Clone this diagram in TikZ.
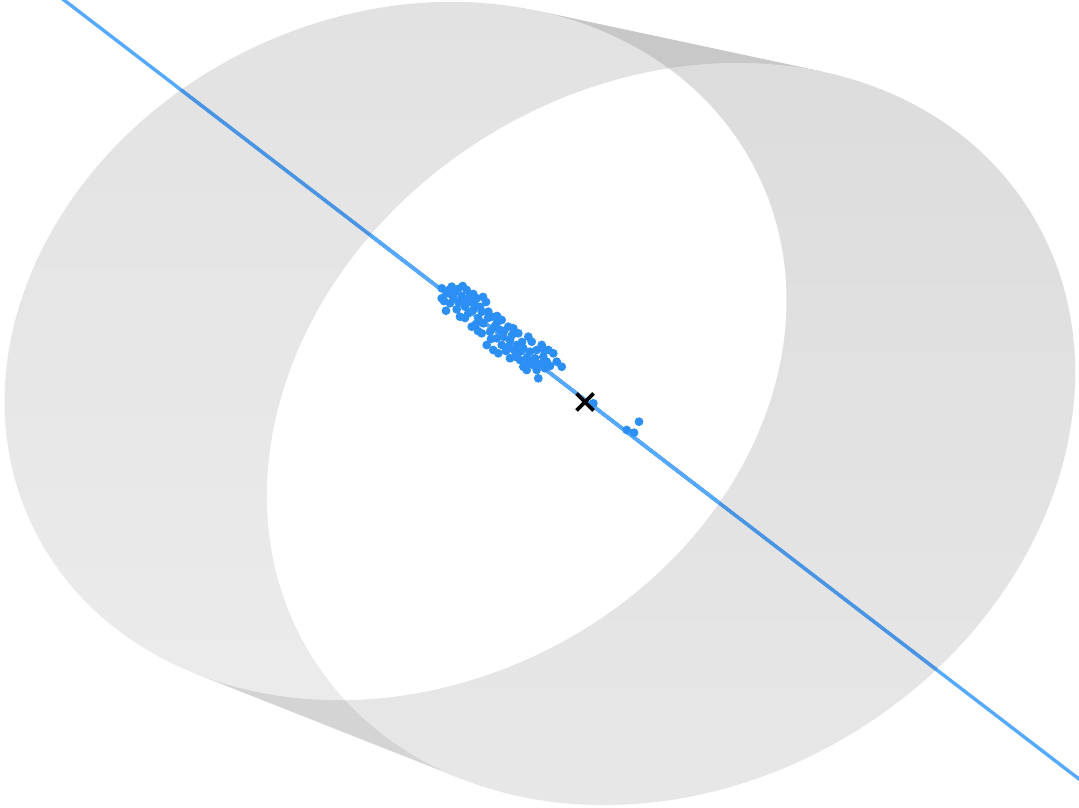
\documentclass[tikz,border=0pt]{standalone}
\definecolor{bandtop}{HTML}{C7C7C7}
\definecolor{bandbot}{HTML}{D5D5D5}
\definecolor{backtop}{HTML}{E2E2E2}
\definecolor{backbot}{HTML}{ECECEC}
\definecolor{fronttop}{HTML}{DCDCDC}
\definecolor{frontbot}{HTML}{E8E8E8}
\definecolor{linelight}{HTML}{55AAFF}
\definecolor{linedark}{HTML}{4A94E2}
\definecolor{dotblue}{HTML}{2B8FF5}
\begin{document}
\begin{tikzpicture}[x=1pt,y=-1pt,
  backcap/.style={shift={(395.5,351)},rotate=26},
  frontcap/.style={shift={(671,434)},rotate=31.4},
  fitline/.style={line width=3.4pt},
  sample/.style={fill=dotblue},
  crossmark/.style={line width=3.8pt,draw=black}]
\useasboundingbox (0,0) rectangle (1079,808);
\clip (0,0) rectangle (1079,808);
% tangent points of the side surface
\coordinate (T1) at (536.6,10.6);
\coordinate (T2) at (822,71.5);
\coordinate (B2) at (461.6,778.9);
\coordinate (B1) at (195.8,673.8);
% side surface bands
\shade[top color=bandtop,bottom color=bandbot] (T1) -- (T2) -- (B2) -- (B1) -- cycle;
% caps
\shade[backcap,top color=backtop,bottom color=backbot] (0,0) ellipse [x radius=403,y radius=335];
\shade[frontcap,top color=fronttop,bottom color=frontbot] (0,0) ellipse [x radius=422.5,y radius=350];
\begin{scope}
  \clip[backcap] (0,0) ellipse [x radius=403,y radius=335];
  \fill[white,frontcap] (0,0) ellipse [x radius=422.5,y radius=350];
\end{scope}
% fitted line
\coordinate (LA) at (50,-10.7);
\coordinate (LB) at (1095,791.3);
\draw[fitline,linelight] (LA) -- (LB);
\begin{scope}
  \clip[backcap] (0,0) ellipse [x radius=403,y radius=335];
  \draw[fitline,linedark] (LA) -- (LB);
\end{scope}
\begin{scope}
  \clip[frontcap] (0,0) ellipse [x radius=422.5,y radius=350];
  \draw[fitline,linedark] (LA) -- (LB);
\end{scope}
\begin{scope}
  \clip[backcap] (0,0) ellipse [x radius=403,y radius=335];
  \clip[frontcap] (0,0) ellipse [x radius=422.5,y radius=350];
  \draw[fitline,linelight] (LA) -- (LB);
\end{scope}
% samples
\foreach \px/\py in {441.7/288.3,451.7/286.7,462.7/286,466.7/290,455/291.7,446.7/293.3,441.7/298.3,
  453.3/296.7,461.7/296,473.3/294,476.7/298.3,470/301.7,458.3/301.7,450/303.3,446/310.7,456.7/309.3,
  465/306.7,475/305,486/302,481.7/311.7,468.3/313.3,460/316.7,488.3/311.7,491.7/316.7,478.3/318.3,
  471.7/326.7,483.3/323.3,496.7/323.3,501.7/320,508.3/326.7,500/330,490/331.7,481.7/333.3,486.7/345,
  496.7/338.3,503.3/336.7,513.3/328.3,518.3/333.3,510/340,501.7/345,493.3/350,498.3/353.3,508.3/346.7,
  516.7/345,520/351.7,528.3/336.7,531.7/341.7,523.3/348.3,526.7/358.3,515/356.7,510/358.3,520/360,
  530/351.7,536.7/350,541.7/345,535/358.3,543.3/356.7,546.7/361.7,553.3/353.3,556.7/361.7,561.7/366.7,
  545/368.3,536.7/370,538.3/378.3,526.7/370,523.3/366.7,548.3/350,533.3/365,
  444/301,449/290,458/289,463/300,470/296,480/307,473/310,488/318,476/324,494/327,504/331,491/339,
  506/351,514/350,522/342,528/363,540/364,550/366,544/350,512/335,497/316,483/297,465/318,478/331,
  593.3/403.3,626.7/430,634/432.7,639/421.7}
  \fill[sample] (\px,\py) circle [radius=4.4];
% mean marker
\coordinate (M) at (585,402);
\draw[crossmark] ([shift={(-8.5,-8.5)}]M) -- ([shift={(8.5,8.5)}]M);
\draw[crossmark] ([shift={(-8.5,8.5)}]M) -- ([shift={(8.5,-8.5)}]M);
\end{tikzpicture}
\end{document}
